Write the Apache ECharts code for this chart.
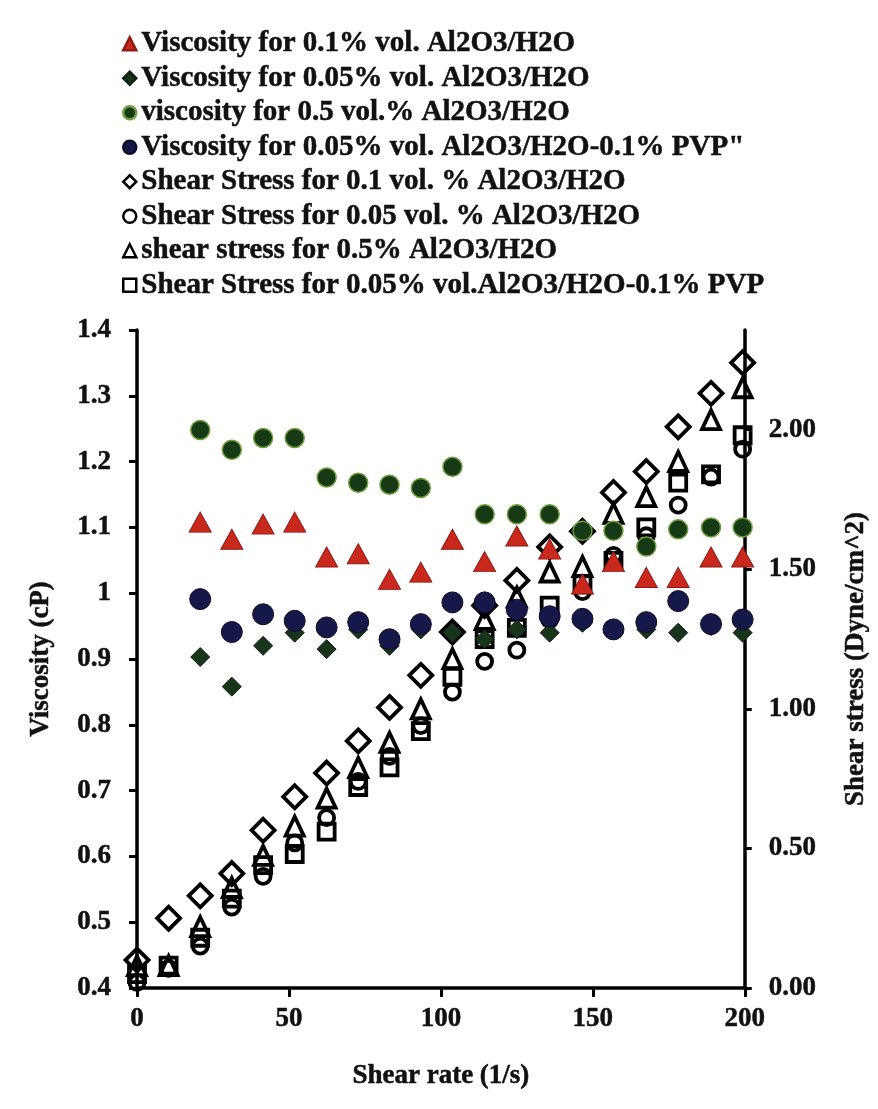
<!DOCTYPE html>
<html>
<head>
<meta charset="utf-8">
<script src="https://cdn.jsdelivr.net/npm/echarts@6/dist/echarts.min.js"></script>
<style>
  html, body { margin: 0; padding: 0; background: #ffffff; }
  #chart { width: 878px; height: 1109px; }
</style>
</head>
<body>
<div id="chart"></div>
<script>
// ---- data ----
const shearRate = [0, 10.4, 20.8, 31.2, 41.5, 51.9, 62.4, 72.8, 83.1, 93.4, 103.8, 114.4, 125, 135.8, 146.6, 156.8, 167.6, 178.1, 188.9, 199.3];

// viscosity (cP), left axis
const viscAl01 = [null, null, 1.108, 1.082, 1.105, 1.108, 1.055, 1.06, 1.021, 1.032, 1.082, 1.048, 1.087, 1.067, 1.014, 1.048, 1.024, 1.024, 1.055, 1.055];
const viscAl005 = [null, null, 0.903, 0.858, 0.92, 0.94, 0.915, 0.945, 0.92, 0.945, 0.94, 0.93, 0.945, 0.94, 0.955, 0.945, 0.945, 0.94, 0.95, 0.94];
const viscAl05 = [null, null, 1.248, 1.218, 1.236, 1.236, 1.176, 1.168, 1.165, 1.16, 1.192, 1.12, 1.12, 1.12, 1.095, 1.095, 1.071, 1.097, 1.10, 1.10];
const viscPVP = [null, null, 0.991, 0.941, 0.968, 0.958, 0.948, 0.956, 0.93, 0.953, 0.986, 0.986, 0.975, 0.965, 0.961, 0.945, 0.956, 0.988, 0.953, 0.96];

// shear stress (Dyne/cm^2), right axis
const stressAl01 = [0.10, 0.25, 0.33, 0.41, 0.565, 0.685, 0.77, 0.885, 1.005, 1.12, 1.275, 1.37, 1.46, 1.58, 1.636, 1.775, 1.85, 2.01, 2.13, 2.24];
const stressAl005 = [0.02, 0.07, 0.15, 0.29, 0.40, 0.52, 0.61, 0.74, 0.83, 0.94, 1.06, 1.17, 1.21, 1.32, 1.42, 1.55, 1.62, 1.73, 1.83, 1.93];
const stressAl05 = [0.08, 0.08, 0.22, 0.36, 0.475, 0.58, 0.68, 0.79, 0.88, 1.0, 1.18, 1.32, 1.40, 1.49, 1.51, 1.70, 1.76, 1.886, 2.036, 2.15];
const stressPVP = [0.05, 0.08, 0.18, 0.32, 0.44, 0.48, 0.56, 0.72, 0.79, 0.92, 1.115, 1.25, 1.29, 1.37, 1.446, 1.53, 1.65, 1.81, 1.84, 1.98];

const xTicks = [0, 50, 100, 150, 200];
const leftTicks = [0.4, 0.5, 0.6, 0.7, 0.8, 0.9, 1, 1.1, 1.2, 1.3, 1.4];
const rightTicks = [0, 0.5, 1, 1.5, 2];

const names = [
  'Viscosity for 0.1% vol. Al2O3/H2O',
  'Viscosity for 0.05% vol. Al2O3/H2O',
  'viscosity for 0.5 vol.% Al2O3/H2O',
  'Viscosity for 0.05% vol. Al2O3/H2O-0.1% PVP"',
  'Shear Stress for 0.1 vol. % Al2O3/H2O',
  'Shear Stress for 0.05 vol. % Al2O3/H2O',
  'shear stress for 0.5% Al2O3/H2O',
  'Shear Stress for 0.05% vol.Al2O3/H2O-0.1% PVP'
];

function pairs(ys) {
  const out = [];
  ys.forEach((y, i) => { if (y !== null) out.push([shearRate[i], y]); });
  return out;
}

const FONT = '"Liberation Serif", "DejaVu Serif", serif';
const hollow = { color: 'rgba(0,0,0,0)', borderColor: '#000', borderWidth: 3.8, opacity: 1 };
const txt = (size) => ({ fontFamily: FONT, fontWeight: 'bold', fontSize: size, color: '#111', textBorderColor: '#111', textBorderWidth: 0.5 });

const chart = echarts.init(document.getElementById('chart'), null, { renderer: 'canvas' });

const option = {
  backgroundColor: '#ffffff',
  animation: false,
  textStyle: { fontFamily: FONT, fontWeight: 'bold', color: '#111' },
  legend: {
    data: names,
    orient: 'vertical',
    left: 117,
    top: 24,
    itemWidth: 13,
    itemHeight: 13,
    itemGap: 5,
    textStyle: Object.assign(txt(29), { lineHeight: 28.8 }),
    itemStyle: { borderWidth: 2.5 }
  },
  grid: { left: 137, right: 133, top: 330, bottom: 121, containLabel: false },
  xAxis: {
    type: 'value', min: 0, max: 200, interval: 50,
    name: 'Shear rate (1/s)', nameLocation: 'middle', nameGap: 75,
    nameTextStyle: txt(27),
    axisLine: { lineStyle: { color: '#000', width: 3.5 } },
    axisTick: { show: true, length: 9, lineStyle: { color: '#000', width: 3 } },
    axisLabel: Object.assign(txt(27), { margin: 18 }),
    splitLine: { show: false }
  },
  yAxis: [
    {
      type: 'value', position: 'left', min: 0.4, max: 1.4, interval: 0.1,
      name: 'Viscosity (cP)', nameLocation: 'middle', nameGap: 82, nameRotate: 90,
      nameTextStyle: txt(27),
      axisLine: { show: true, lineStyle: { color: '#000', width: 3.5 } },
      axisTick: { show: true, length: 8, lineStyle: { color: '#000', width: 3 } },
      axisLabel: Object.assign(txt(27), { margin: 26 }),
      splitLine: { show: false }
    },
    {
      type: 'value', position: 'right', min: 0, max: 2.357,
      name: 'Shear stress (Dyne/cm^2)', nameLocation: 'middle', nameGap: 98, nameRotate: 90,
      nameTextStyle: txt(27),
      axisLine: { show: true, lineStyle: { color: '#000', width: 3.5 } },
      axisTick: { show: true, length: 7, customValues: rightTicks, lineStyle: { color: '#000', width: 3 } },
      axisLabel: Object.assign(txt(27), {
        margin: 24,
        customValues: rightTicks,
        formatter: v => v.toFixed(2)
      }),
      splitLine: { show: false }
    }
  ],
  series: [
    { name: names[4], type: 'scatter', yAxisIndex: 1, symbol: 'diamond', symbolSize: 23, itemStyle: hollow, data: pairs(stressAl01), z: 2 },
    { name: names[5], type: 'scatter', yAxisIndex: 1, symbol: 'circle', symbolSize: 15, itemStyle: hollow, data: pairs(stressAl005), z: 2 },
    { name: names[6], type: 'scatter', yAxisIndex: 1, symbol: 'triangle', symbolSize: [18, 19], itemStyle: hollow, data: pairs(stressAl05), z: 2 },
    { name: names[7], type: 'scatter', yAxisIndex: 1, symbol: 'rect', symbolSize: 16, itemStyle: hollow, data: pairs(stressPVP), z: 2 },
    { name: names[0], type: 'scatter', yAxisIndex: 0, symbol: 'triangle', symbolSize: [22, 20], itemStyle: { color: '#c9281d', borderColor: '#8f1a12', borderWidth: 1, opacity: 1 }, data: pairs(viscAl01), z: 3 },
    { name: names[1], type: 'scatter', yAxisIndex: 0, symbol: 'diamond', symbolSize: 19, itemStyle: { color: '#17351a', borderColor: '#0d220f', borderWidth: 1, opacity: 1 }, data: pairs(viscAl005), z: 3 },
    { name: names[2], type: 'scatter', yAxisIndex: 0, symbol: 'circle', symbolSize: 19, itemStyle: { color: '#163a16', borderColor: '#6f9e3c', borderWidth: 1.5, opacity: 1 }, data: pairs(viscAl05), z: 3 },
    { name: names[3], type: 'scatter', yAxisIndex: 0, symbol: 'circle', symbolSize: 21, itemStyle: { color: '#16184a', borderColor: '#0c0c2a', borderWidth: 1, opacity: 1 }, data: pairs(viscPVP), z: 3 }
  ]
};

chart.setOption(option);
</script>
</body>
</html>
